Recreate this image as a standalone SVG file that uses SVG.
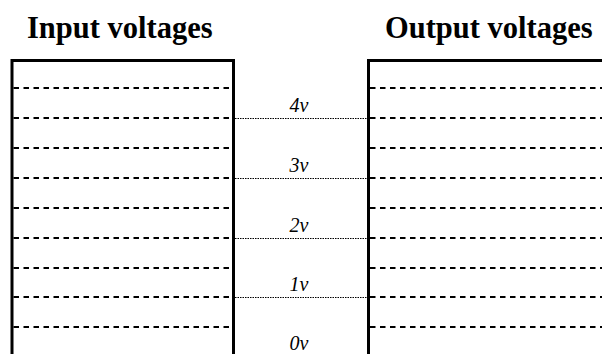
<svg xmlns="http://www.w3.org/2000/svg" width="602" height="354" viewBox="0 0 602 354">
  <style>
    .title { font-family: "Liberation Serif", "Times New Roman", serif; font-weight: bold; font-size: 30.5px; fill: #000; }
    .volt { font-family: "Liberation Serif", "Times New Roman", serif; font-style: italic; font-size: 20px; fill: #000; text-anchor: middle; }
    .frame { fill: none; stroke: #000; stroke-width: 3; }
    .level { stroke: #000; stroke-width: 2; stroke-dasharray: 5.5 4.5; }
    .link { stroke: #000; stroke-width: 1; stroke-dasharray: 1.5 1; }
  </style>
  <rect width="602" height="354" fill="#fff"/>

  <!-- input side -->
  <g id="input">
    <text class="title" x="27" y="38">Input voltages</text>
    <polyline class="frame" points="12,360 12,60.5 233.5,60.5 233.5,360"/>
    <g>
      <line class="level" x1="13.5" y1="88" x2="232" y2="88"/>
      <line class="level" x1="13.5" y1="118" x2="232" y2="118"/>
      <line class="level" x1="13.5" y1="148" x2="232" y2="148"/>
      <line class="level" x1="13.5" y1="178" x2="232" y2="178"/>
      <line class="level" x1="13.5" y1="208" x2="232" y2="208"/>
      <line class="level" x1="13.5" y1="238" x2="232" y2="238"/>
      <line class="level" x1="13.5" y1="268" x2="232" y2="268"/>
      <line class="level" x1="13.5" y1="297" x2="232" y2="297"/>
      <line class="level" x1="13.5" y1="327" x2="232" y2="327"/>
    </g>
  </g>

  <!-- output side -->
  <g id="output">
    <text class="title" x="385" y="38">Output voltages</text>
    <polyline class="frame" points="368.5,360 368.5,60.5 605,60.5"/>
    <g>
      <line class="level" x1="370" y1="88" x2="602" y2="88"/>
      <line class="level" x1="370" y1="118" x2="602" y2="118"/>
      <line class="level" x1="370" y1="148" x2="602" y2="148"/>
      <line class="level" x1="370" y1="178" x2="602" y2="178"/>
      <line class="level" x1="370" y1="208" x2="602" y2="208"/>
      <line class="level" x1="370" y1="238" x2="602" y2="238"/>
      <line class="level" x1="370" y1="268" x2="602" y2="268"/>
      <line class="level" x1="370" y1="297" x2="602" y2="297"/>
      <line class="level" x1="370" y1="327" x2="602" y2="327"/>
    </g>
  </g>

  <!-- level links between the two sides -->
  <g id="links">
    <line class="link" x1="235" y1="118.5" x2="367" y2="118.5"/>
    <line class="link" x1="235" y1="178.5" x2="367" y2="178.5"/>
    <line class="link" x1="235" y1="238.5" x2="367" y2="238.5"/>
    <line class="link" x1="235" y1="297.5" x2="367" y2="297.5"/>
  </g>

  <g id="labels">
    <text class="volt" x="299" y="112">4v</text>
    <text class="volt" x="299" y="172">3v</text>
    <text class="volt" x="299" y="232">2v</text>
    <text class="volt" x="299" y="291">1v</text>
    <text class="volt" x="299" y="350">0v</text>
  </g>
</svg>
